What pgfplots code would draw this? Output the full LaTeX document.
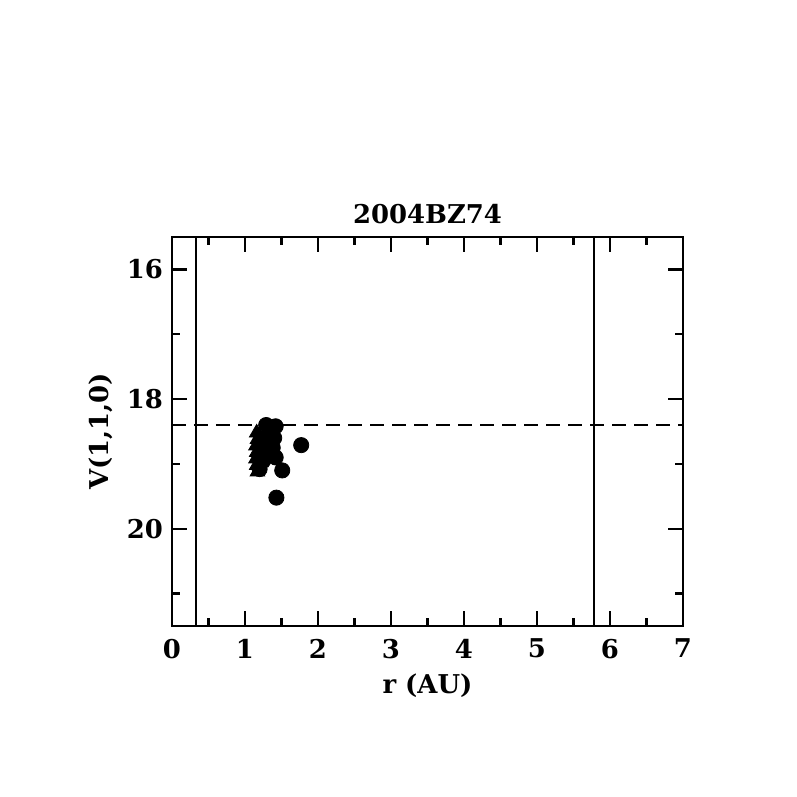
\documentclass[border=0pt]{standalone}
\usepackage{fontspec}
\setmainfont{DejaVu Serif}
\usepackage{pgfplots}
\pgfplotsset{compat=1.18}
\begin{document}
\begin{tikzpicture}
\path (-86bp,-85.5bp) rectangle (312.5bp,313bp);
\begin{axis}[
  at={(0,0)}, anchor=south west,
  scale only axis, width=255.5bp, height=194.5bp,
  xmin=0, xmax=7, ymin=15.5, ymax=21.5, y dir=reverse,
  xtick={0,1,...,7}, ytick={16,18,20},
  minor xtick={0.5,1.5,...,6.5}, minor ytick={17,19,21},
  tick align=inside, xtick pos=both, ytick pos=both,
  major tick length=7.5bp, minor tick length=4bp,
  every tick/.style={black, line width=1.2pt},
  axis line style={line width=1.3pt},
  /pgf/number format/assume math mode=true,
  tick label style={font=\fontsize{13}{15}\selectfont\bfseries},
  xticklabel style={yshift=-3bp},
  yticklabel style={xshift=-1bp},
  label style={font=\fontsize{13}{15}\selectfont\bfseries},
  title style={font=\fontsize{13}{15}\selectfont\bfseries, yshift=-3bp},
  title={2004BZ74},
  xlabel={r (AU)}, ylabel={V(1,1,0)},
  xlabel style={yshift=-1bp},
  ylabel style={yshift=0bp},
  clip=true,
]
\addplot[black, line width=1.2pt] coordinates {(0.33,15.5) (0.33,21.5)};
\addplot[black, line width=1.2pt] coordinates {(5.78,15.5) (5.78,21.5)};
\addplot[black, line width=1.2pt, dash pattern=on 7bp off 4bp] coordinates {(0,18.4) (7,18.4)};
\addplot[only marks, mark=triangle*, mark size=4.2bp, black] coordinates {
(1.16,18.52) (1.17,18.62) (1.15,18.72) (1.16,18.82) (1.15,18.92) (1.16,19.02) (1.17,19.12)
(1.20,18.58) (1.21,18.78) (1.22,18.98)
};
\addplot[only marks, mark=*, mark size=3.8bp, black] coordinates {
(1.29,18.40) (1.42,18.42) (1.36,18.45) (1.33,18.55) (1.40,18.60) (1.30,18.65)
(1.38,18.75) (1.35,18.85) (1.42,18.90) (1.25,18.95) (1.20,19.08) (1.28,18.80)
(1.51,19.10) (1.77,18.71) (1.43,19.52)
};
\end{axis}
\end{tikzpicture}
\end{document}
